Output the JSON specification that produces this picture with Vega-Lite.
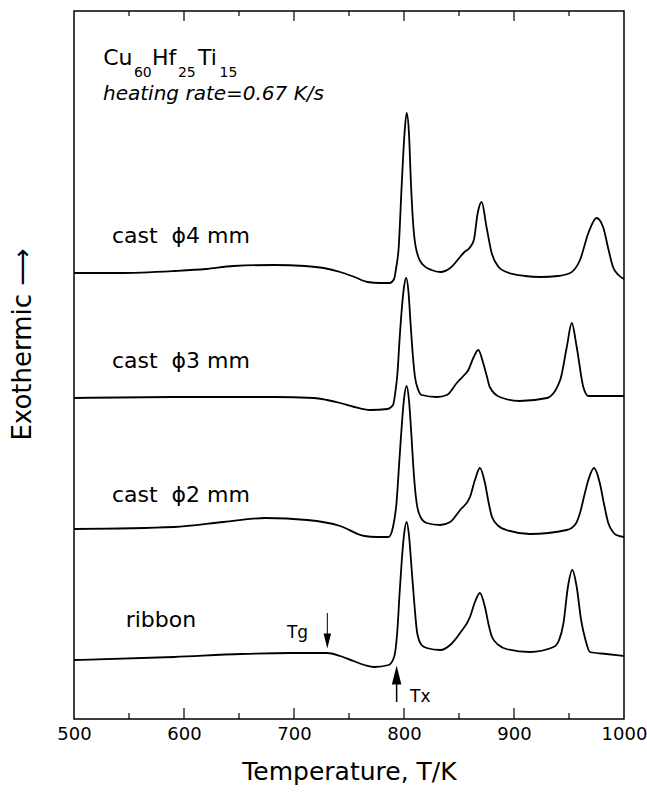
{
  "$schema": "https://vega.github.io/schema/vega-lite/v6.json",
  "width": 550,
  "height": 708,
  "autosize": {"type": "none"},
  "padding": {"left": 74, "top": 11, "right": 23, "bottom": 73},
  "background": "white",
  "config": {
    "font": "DejaVu Sans",
    "view": {"stroke": "black", "strokeWidth": 1.5},
    "axis": {"labelColor": "black", "titleColor": "black", "tickColor": "black", "domain": false, "grid": false, "titleFontWeight": "normal"}
  },
  "datasets": {
    "curves": [
      {"sample": "cast ϕ4 mm", "T": 500, "v": 446}, {"sample": "cast ϕ4 mm", "T": 540, "v": 446}, {"sample": "cast ϕ4 mm", "T": 591, "v": 448}, {"sample": "cast ϕ4 mm", "T": 620, "v": 450}, {"sample": "cast ϕ4 mm", "T": 645, "v": 453}, {"sample": "cast ϕ4 mm", "T": 682, "v": 454}, {"sample": "cast ϕ4 mm", "T": 710, "v": 453}, {"sample": "cast ϕ4 mm", "T": 727, "v": 451}, {"sample": "cast ϕ4 mm", "T": 742, "v": 447}, {"sample": "cast ϕ4 mm", "T": 755, "v": 442}, {"sample": "cast ϕ4 mm", "T": 767, "v": 437}, {"sample": "cast ϕ4 mm", "T": 778, "v": 436}, {"sample": "cast ϕ4 mm", "T": 787, "v": 436}, {"sample": "cast ϕ4 mm", "T": 791, "v": 440}, {"sample": "cast ϕ4 mm", "T": 793, "v": 452}, {"sample": "cast ϕ4 mm", "T": 795, "v": 469}, {"sample": "cast ϕ4 mm", "T": 798, "v": 536}, {"sample": "cast ϕ4 mm", "T": 800.5, "v": 586}, {"sample": "cast ϕ4 mm", "T": 802.4, "v": 606}, {"sample": "cast ϕ4 mm", "T": 804.5, "v": 586}, {"sample": "cast ϕ4 mm", "T": 806.3, "v": 536}, {"sample": "cast ϕ4 mm", "T": 809, "v": 486}, {"sample": "cast ϕ4 mm", "T": 813, "v": 462}, {"sample": "cast ϕ4 mm", "T": 817.5, "v": 454}, {"sample": "cast ϕ4 mm", "T": 825, "v": 449}, {"sample": "cast ϕ4 mm", "T": 833, "v": 447}, {"sample": "cast ϕ4 mm", "T": 842, "v": 451}, {"sample": "cast ϕ4 mm", "T": 851, "v": 462}, {"sample": "cast ϕ4 mm", "T": 855, "v": 467}, {"sample": "cast ϕ4 mm", "T": 859.5, "v": 471}, {"sample": "cast ϕ4 mm", "T": 863.5, "v": 479}, {"sample": "cast ϕ4 mm", "T": 867, "v": 506}, {"sample": "cast ϕ4 mm", "T": 870.6, "v": 517}, {"sample": "cast ϕ4 mm", "T": 875, "v": 492}, {"sample": "cast ϕ4 mm", "T": 879.7, "v": 466}, {"sample": "cast ϕ4 mm", "T": 886, "v": 452}, {"sample": "cast ϕ4 mm", "T": 893, "v": 447}, {"sample": "cast ϕ4 mm", "T": 910, "v": 443}, {"sample": "cast ϕ4 mm", "T": 924, "v": 442}, {"sample": "cast ϕ4 mm", "T": 940, "v": 443}, {"sample": "cast ϕ4 mm", "T": 951, "v": 446}, {"sample": "cast ϕ4 mm", "T": 960, "v": 459}, {"sample": "cast ϕ4 mm", "T": 967.6, "v": 486}, {"sample": "cast ϕ4 mm", "T": 975, "v": 501}, {"sample": "cast ϕ4 mm", "T": 981, "v": 492}, {"sample": "cast ϕ4 mm", "T": 986, "v": 469}, {"sample": "cast ϕ4 mm", "T": 990, "v": 452}, {"sample": "cast ϕ4 mm", "T": 995, "v": 444}, {"sample": "cast ϕ4 mm", "T": 1000, "v": 440},

      {"sample": "cast ϕ3 mm", "T": 500, "v": 321}, {"sample": "cast ϕ3 mm", "T": 591, "v": 322}, {"sample": "cast ϕ3 mm", "T": 682, "v": 322}, {"sample": "cast ϕ3 mm", "T": 718, "v": 321}, {"sample": "cast ϕ3 mm", "T": 730, "v": 319}, {"sample": "cast ϕ3 mm", "T": 742, "v": 316}, {"sample": "cast ϕ3 mm", "T": 755, "v": 312}, {"sample": "cast ϕ3 mm", "T": 769, "v": 309}, {"sample": "cast ϕ3 mm", "T": 785, "v": 310}, {"sample": "cast ϕ3 mm", "T": 790, "v": 314}, {"sample": "cast ϕ3 mm", "T": 792, "v": 326}, {"sample": "cast ϕ3 mm", "T": 794, "v": 345}, {"sample": "cast ϕ3 mm", "T": 796, "v": 380}, {"sample": "cast ϕ3 mm", "T": 798, "v": 410}, {"sample": "cast ϕ3 mm", "T": 800, "v": 432}, {"sample": "cast ϕ3 mm", "T": 802, "v": 441}, {"sample": "cast ϕ3 mm", "T": 804, "v": 428}, {"sample": "cast ϕ3 mm", "T": 806, "v": 395}, {"sample": "cast ϕ3 mm", "T": 808, "v": 364}, {"sample": "cast ϕ3 mm", "T": 810, "v": 342}, {"sample": "cast ϕ3 mm", "T": 813, "v": 329}, {"sample": "cast ϕ3 mm", "T": 816, "v": 324}, {"sample": "cast ϕ3 mm", "T": 830, "v": 322}, {"sample": "cast ϕ3 mm", "T": 839, "v": 324}, {"sample": "cast ϕ3 mm", "T": 848, "v": 336}, {"sample": "cast ϕ3 mm", "T": 854, "v": 343}, {"sample": "cast ϕ3 mm", "T": 858.5, "v": 349}, {"sample": "cast ϕ3 mm", "T": 863, "v": 361}, {"sample": "cast ϕ3 mm", "T": 867.5, "v": 369}, {"sample": "cast ϕ3 mm", "T": 872, "v": 356}, {"sample": "cast ϕ3 mm", "T": 875, "v": 344}, {"sample": "cast ϕ3 mm", "T": 878, "v": 332}, {"sample": "cast ϕ3 mm", "T": 887, "v": 322}, {"sample": "cast ϕ3 mm", "T": 905, "v": 318}, {"sample": "cast ϕ3 mm", "T": 930, "v": 321}, {"sample": "cast ϕ3 mm", "T": 942, "v": 339}, {"sample": "cast ϕ3 mm", "T": 948, "v": 372}, {"sample": "cast ϕ3 mm", "T": 952.5, "v": 396}, {"sample": "cast ϕ3 mm", "T": 957, "v": 372}, {"sample": "cast ϕ3 mm", "T": 963, "v": 332}, {"sample": "cast ϕ3 mm", "T": 967.6, "v": 323}, {"sample": "cast ϕ3 mm", "T": 984, "v": 323}, {"sample": "cast ϕ3 mm", "T": 1000, "v": 323},

      {"sample": "cast ϕ2 mm", "T": 500, "v": 190}, {"sample": "cast ϕ2 mm", "T": 591, "v": 192}, {"sample": "cast ϕ2 mm", "T": 636, "v": 197}, {"sample": "cast ϕ2 mm", "T": 674, "v": 201}, {"sample": "cast ϕ2 mm", "T": 712, "v": 199}, {"sample": "cast ϕ2 mm", "T": 742, "v": 193}, {"sample": "cast ϕ2 mm", "T": 764, "v": 183}, {"sample": "cast ϕ2 mm", "T": 775, "v": 182}, {"sample": "cast ϕ2 mm", "T": 786, "v": 182}, {"sample": "cast ϕ2 mm", "T": 790, "v": 192}, {"sample": "cast ϕ2 mm", "T": 793, "v": 214}, {"sample": "cast ϕ2 mm", "T": 796, "v": 262}, {"sample": "cast ϕ2 mm", "T": 798, "v": 294}, {"sample": "cast ϕ2 mm", "T": 800, "v": 320}, {"sample": "cast ϕ2 mm", "T": 802.4, "v": 333}, {"sample": "cast ϕ2 mm", "T": 804.5, "v": 319}, {"sample": "cast ϕ2 mm", "T": 807, "v": 279}, {"sample": "cast ϕ2 mm", "T": 809, "v": 244}, {"sample": "cast ϕ2 mm", "T": 811.5, "v": 216}, {"sample": "cast ϕ2 mm", "T": 815, "v": 202}, {"sample": "cast ϕ2 mm", "T": 820.6, "v": 196}, {"sample": "cast ϕ2 mm", "T": 833, "v": 194}, {"sample": "cast ϕ2 mm", "T": 842, "v": 197}, {"sample": "cast ϕ2 mm", "T": 851, "v": 209}, {"sample": "cast ϕ2 mm", "T": 860, "v": 222}, {"sample": "cast ϕ2 mm", "T": 864.5, "v": 239}, {"sample": "cast ϕ2 mm", "T": 869, "v": 251}, {"sample": "cast ϕ2 mm", "T": 873.6, "v": 236}, {"sample": "cast ϕ2 mm", "T": 877, "v": 216}, {"sample": "cast ϕ2 mm", "T": 880, "v": 202}, {"sample": "cast ϕ2 mm", "T": 886, "v": 193}, {"sample": "cast ϕ2 mm", "T": 893, "v": 189}, {"sample": "cast ϕ2 mm", "T": 914.5, "v": 185}, {"sample": "cast ϕ2 mm", "T": 948, "v": 189}, {"sample": "cast ϕ2 mm", "T": 956, "v": 195}, {"sample": "cast ϕ2 mm", "T": 960, "v": 206}, {"sample": "cast ϕ2 mm", "T": 964, "v": 224}, {"sample": "cast ϕ2 mm", "T": 967.6, "v": 239}, {"sample": "cast ϕ2 mm", "T": 972.7, "v": 251}, {"sample": "cast ϕ2 mm", "T": 978, "v": 236}, {"sample": "cast ϕ2 mm", "T": 982, "v": 214}, {"sample": "cast ϕ2 mm", "T": 985.7, "v": 196}, {"sample": "cast ϕ2 mm", "T": 990, "v": 187}, {"sample": "cast ϕ2 mm", "T": 993, "v": 184}, {"sample": "cast ϕ2 mm", "T": 1000, "v": 182},

      {"sample": "ribbon", "T": 500, "v": 59}, {"sample": "ribbon", "T": 591, "v": 62}, {"sample": "ribbon", "T": 652, "v": 65}, {"sample": "ribbon", "T": 697, "v": 66}, {"sample": "ribbon", "T": 730, "v": 66}, {"sample": "ribbon", "T": 742, "v": 63}, {"sample": "ribbon", "T": 754, "v": 58}, {"sample": "ribbon", "T": 764, "v": 54}, {"sample": "ribbon", "T": 773, "v": 52}, {"sample": "ribbon", "T": 786, "v": 54}, {"sample": "ribbon", "T": 791, "v": 62}, {"sample": "ribbon", "T": 794, "v": 89}, {"sample": "ribbon", "T": 796, "v": 126}, {"sample": "ribbon", "T": 798, "v": 159}, {"sample": "ribbon", "T": 800, "v": 184}, {"sample": "ribbon", "T": 802.4, "v": 197}, {"sample": "ribbon", "T": 804.5, "v": 184}, {"sample": "ribbon", "T": 807, "v": 149}, {"sample": "ribbon", "T": 809.5, "v": 114}, {"sample": "ribbon", "T": 812, "v": 86}, {"sample": "ribbon", "T": 816, "v": 74}, {"sample": "ribbon", "T": 820.6, "v": 71}, {"sample": "ribbon", "T": 833, "v": 69}, {"sample": "ribbon", "T": 842, "v": 74}, {"sample": "ribbon", "T": 851, "v": 86}, {"sample": "ribbon", "T": 860, "v": 102}, {"sample": "ribbon", "T": 864.5, "v": 117}, {"sample": "ribbon", "T": 869, "v": 126}, {"sample": "ribbon", "T": 873.6, "v": 112}, {"sample": "ribbon", "T": 877, "v": 94}, {"sample": "ribbon", "T": 880, "v": 82}, {"sample": "ribbon", "T": 886, "v": 74}, {"sample": "ribbon", "T": 893, "v": 70}, {"sample": "ribbon", "T": 914.5, "v": 67}, {"sample": "ribbon", "T": 936, "v": 72}, {"sample": "ribbon", "T": 941, "v": 79}, {"sample": "ribbon", "T": 945, "v": 96}, {"sample": "ribbon", "T": 949, "v": 132}, {"sample": "ribbon", "T": 953, "v": 149}, {"sample": "ribbon", "T": 957, "v": 132}, {"sample": "ribbon", "T": 961, "v": 99}, {"sample": "ribbon", "T": 965, "v": 79}, {"sample": "ribbon", "T": 969, "v": 67}, {"sample": "ribbon", "T": 984, "v": 65}, {"sample": "ribbon", "T": 1000, "v": 63}
    ],
    "majorTicks": [{"T": 600}, {"T": 700}, {"T": 800}, {"T": 900}],
    "minorTicks": [{"T": 550}, {"T": 650}, {"T": 750}, {"T": 850}, {"T": 950}],
    "sampleLabels": [
      {"T": 534.5, "v": 476, "text": "cast\u00a0 ϕ4 mm"},
      {"T": 534.5, "v": 351, "text": "cast\u00a0 ϕ3 mm"},
      {"T": 534.5, "v": 217, "text": "cast\u00a0 ϕ2 mm"},
      {"T": 547, "v": 92, "text": "ribbon"}
    ],
    "formulaMain": [
      {"T": 526.6, "v": 654, "text": "Cu"},
      {"T": 570.9, "v": 654, "text": "Hf"},
      {"T": 612.7, "v": 654, "text": "Ti"}
    ],
    "formulaSub": [
      {"T": 554.5, "v": 642, "text": "60"},
      {"T": 594.5, "v": 642, "text": "25"},
      {"T": 632.3, "v": 642, "text": "15"}
    ],
    "note": [
      {"T": 526.4, "v": 619, "text": "heating rate=0.67 K/s"}
    ],
    "marks": [
      {"T": 693.6, "v": 81, "text": "Tg"},
      {"T": 805.5, "v": 17, "text": "Tx"}
    ],
    "tgArrow": [{"T": 730.3, "v": 106, "v2": 78}],
    "txArrow": [{"T": 793.3, "v": 17, "v2": 44}]
  },
  "resolve": {"axis": {"x": "independent", "y": "independent"}},
  "layer": [
    {
      "data": {"name": "curves"},
      "mark": {"type": "line", "color": "black", "strokeWidth": 1.8, "interpolate": "monotone"},
      "encoding": {
        "x": {
          "field": "T", "type": "quantitative",
          "scale": {"domain": [500, 1000], "nice": false, "zero": false},
          "axis": {
            "orient": "bottom",
            "values": [500, 600, 700, 800, 900, 1000],
            "format": "d",
            "ticks": false,
            "labelFontSize": 18,
            "labelPadding": 6,
            "labelFlush": false,
            "title": "Temperature, T/K",
            "titleFontSize": 25,
            "titlePadding": 16
          }
        },
        "y": {
          "field": "v", "type": "quantitative",
          "scale": {"domain": [0, 708], "nice": false, "zero": false},
          "axis": {
            "labels": false, "ticks": false, "domain": false,
            "title": "Exothermic ⟶",
            "titleFontSize": 26,
            "titleAngle": -90,
            "titleAnchor": "middle",
            "titleAlign": "center",
            "titleBaseline": "middle",
            "titleX": -52,
            "titleY": 333
          }
        },
        "detail": {"field": "sample"}
      }
    },
    {
      "data": {"name": "majorTicks"},
      "mark": {"type": "rule", "color": "black", "strokeWidth": 1.2},
      "encoding": {
        "x": {"field": "T", "type": "quantitative", "axis": null},
        "y": {"datum": 0, "type": "quantitative", "axis": null},
        "y2": {"datum": 11}
      }
    },
    {
      "data": {"name": "majorTicks"},
      "mark": {"type": "rule", "color": "black", "strokeWidth": 1.2},
      "encoding": {
        "x": {"field": "T", "type": "quantitative", "axis": null},
        "y": {"datum": 708, "type": "quantitative", "axis": null},
        "y2": {"datum": 698}
      }
    },
    {
      "data": {"name": "minorTicks"},
      "mark": {"type": "rule", "color": "black", "strokeWidth": 1.2},
      "encoding": {
        "x": {"field": "T", "type": "quantitative", "axis": null},
        "y": {"datum": 0, "type": "quantitative", "axis": null},
        "y2": {"datum": 6}
      }
    },
    {
      "data": {"name": "minorTicks"},
      "mark": {"type": "rule", "color": "black", "strokeWidth": 1.2},
      "encoding": {
        "x": {"field": "T", "type": "quantitative", "axis": null},
        "y": {"datum": 708, "type": "quantitative", "axis": null},
        "y2": {"datum": 703}
      }
    },
    {
      "data": {"name": "sampleLabels"},
      "mark": {"type": "text", "align": "left", "baseline": "alphabetic", "fontSize": 22, "color": "black"},
      "encoding": {
        "x": {"field": "T", "type": "quantitative", "axis": null},
        "y": {"field": "v", "type": "quantitative", "axis": null},
        "text": {"field": "text"}
      }
    },
    {
      "data": {"name": "formulaMain"},
      "mark": {"type": "text", "align": "left", "baseline": "alphabetic", "fontSize": 22, "color": "black"},
      "encoding": {
        "x": {"field": "T", "type": "quantitative", "axis": null},
        "y": {"field": "v", "type": "quantitative", "axis": null},
        "text": {"field": "text"}
      }
    },
    {
      "data": {"name": "formulaSub"},
      "mark": {"type": "text", "align": "left", "baseline": "alphabetic", "fontSize": 14, "color": "black"},
      "encoding": {
        "x": {"field": "T", "type": "quantitative", "axis": null},
        "y": {"field": "v", "type": "quantitative", "axis": null},
        "text": {"field": "text"}
      }
    },
    {
      "data": {"name": "note"},
      "mark": {"type": "text", "align": "left", "baseline": "alphabetic", "fontSize": 20, "fontStyle": "italic", "color": "black"},
      "encoding": {
        "x": {"field": "T", "type": "quantitative", "axis": null},
        "y": {"field": "v", "type": "quantitative", "axis": null},
        "text": {"field": "text"}
      }
    },
    {
      "data": {"name": "marks"},
      "mark": {"type": "text", "align": "left", "baseline": "alphabetic", "fontSize": 17, "color": "black"},
      "encoding": {
        "x": {"field": "T", "type": "quantitative", "axis": null},
        "y": {"field": "v", "type": "quantitative", "axis": null},
        "text": {"field": "text"}
      }
    },
    {
      "data": {"name": "tgArrow"},
      "mark": {"type": "rule", "color": "black", "strokeWidth": 1},
      "encoding": {
        "x": {"field": "T", "type": "quantitative", "axis": null},
        "y": {"field": "v", "type": "quantitative", "axis": null},
        "y2": {"field": "v2"}
      }
    },
    {
      "data": {"name": "tgArrow"},
      "mark": {"type": "point", "shape": "M-0.5,-1L0.5,-1L0,1Z", "size": 225, "filled": true, "color": "black", "opacity": 1},
      "encoding": {
        "x": {"field": "T", "type": "quantitative", "axis": null},
        "y": {"field": "v2", "type": "quantitative", "axis": null}
      }
    },
    {
      "data": {"name": "txArrow"},
      "mark": {"type": "rule", "color": "black", "strokeWidth": 1.5},
      "encoding": {
        "x": {"field": "T", "type": "quantitative", "axis": null},
        "y": {"field": "v", "type": "quantitative", "axis": null},
        "y2": {"field": "v2"}
      }
    },
    {
      "data": {"name": "txArrow"},
      "mark": {"type": "point", "shape": "M-0.5,1L0.5,1L0,-1Z", "size": 361, "filled": true, "color": "black", "opacity": 1},
      "encoding": {
        "x": {"field": "T", "type": "quantitative", "axis": null},
        "y": {"field": "v2", "type": "quantitative", "axis": null}
      }
    }
  ]
}
